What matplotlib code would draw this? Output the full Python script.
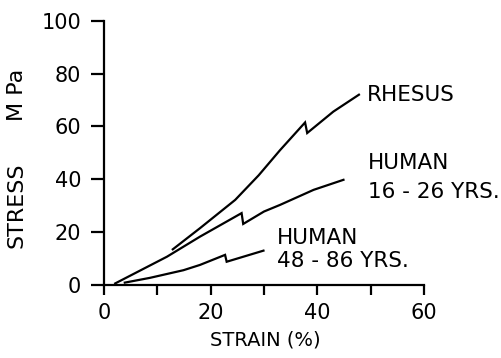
import matplotlib.pyplot as plt

# ---- dados (strain %, stress MPa) ----
rhesus_strain = [12.9, 18.0, 24.6, 29.0, 33.0, 37.7, 38.1, 43.0, 47.8]
rhesus_stress = [13.5, 21.5, 32.2, 41.5, 51.0, 61.5, 57.5, 65.6, 72.0]

young_strain = [2.1, 11.8, 18.0, 25.8, 26.1, 30.0, 33.0, 39.3, 44.9]
young_stress = [0.6, 10.7, 18.3, 27.2, 23.1, 27.8, 30.3, 36.0, 39.8]

old_strain = [3.9, 8.6, 14.9, 18.0, 22.7, 23.0, 29.9]
old_stress = [0.9, 2.7, 5.6, 7.6, 11.4, 8.8, 13.0]

x_ticks = [0, 20, 40, 60]
x_minor = [10, 30, 50]
y_ticks = [0, 20, 40, 60, 80, 100]

plt.rcParams['font.family'] = 'DejaVu Sans'

fig = plt.figure(figsize=(5.02, 3.58), dpi=100)
ax = fig.add_axes([104 / 502, 73 / 358, 320 / 502, 264.3 / 358])

lw = 1.6
for xs, ys in [(rhesus_strain, rhesus_stress),
               (young_strain, young_stress),
               (old_strain, old_stress)]:
    ax.plot(xs, ys, color='black', lw=lw, solid_joinstyle='miter')

ax.set_xlim(0, 60)
ax.set_ylim(0, 100)
ax.spines['top'].set_visible(False)
ax.spines['right'].set_visible(False)
ax.spines['left'].set_linewidth(lw)
ax.spines['bottom'].set_linewidth(lw)

ax.set_xticks(x_ticks)
ax.set_xticks(x_minor, minor=True)
ax.set_yticks(y_ticks)
ax.tick_params(axis='x', which='both', direction='out', length=7, width=lw,
               labelsize=15, pad=6)
ax.tick_params(axis='y', direction='out', length=9.5, width=lw,
               labelsize=15, pad=7)

fs = 15.5
ax.text(49.3, 72, 'RHESUS', fontsize=fs, va='center', ha='left')
ax.text(49.5, 46, 'HUMAN', fontsize=fs, va='center', ha='left')
ax.text(49.5, 35, '16 - 26 YRS.', fontsize=fs, va='center', ha='left')
ax.text(32.5, 17.6, 'HUMAN', fontsize=fs, va='center', ha='left')
ax.text(32.5, 9.0, '48 - 86 YRS.', fontsize=fs, va='center', ha='left')

fig.text(17 / 502, 1 - 205 / 358, 'STRESS', rotation=90,
         fontsize=16, ha='center', va='center')
fig.text(17 / 502, 1 - 95 / 358, 'M Pa', rotation=90,
         fontsize=16, ha='center', va='center')
fig.text(265 / 502, 1 - 340 / 358, 'STRAIN (%)', fontsize=14,
         ha='center', va='center')

fig.savefig('out.png', dpi=100)
